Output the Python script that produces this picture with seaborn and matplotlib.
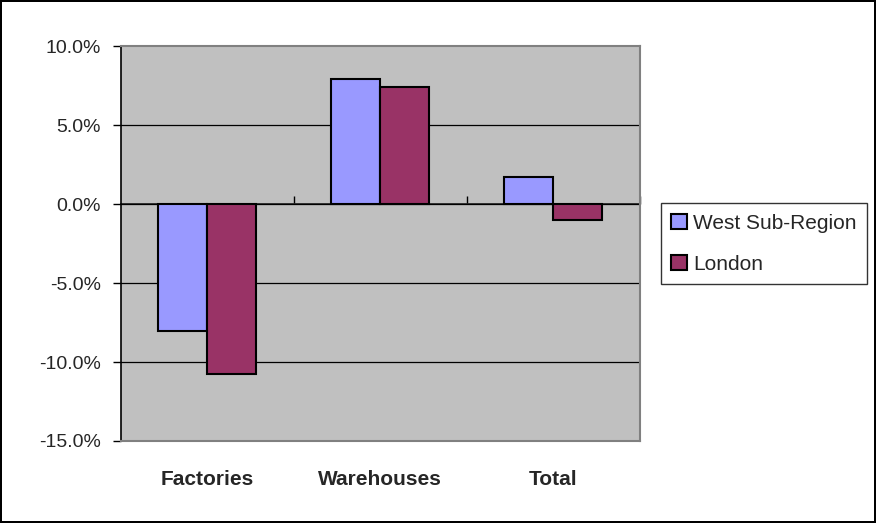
import matplotlib
matplotlib.use("Agg")
import matplotlib.pyplot as plt
import seaborn as sns
import pandas as pd
from matplotlib.ticker import FuncFormatter

categories = ["Factories", "Warehouses", "Total"]
series_names = ["West Sub-Region", "London"]
west = [-8.0, 7.95, 1.75]
london = [-10.75, 7.45, -1.0]
y_ticks = [-15, -10, -5, 0, 5, 10]

df = pd.DataFrame({
    "category": categories * 2,
    "series": [series_names[0]] * 3 + [series_names[1]] * 3,
    "value": west + london,
})

sns.set_theme(style="white")
plt.rcParams["font.family"] = ["Liberation Sans", "DejaVu Sans"]

fig = plt.figure(figsize=(8.76, 5.23), dpi=100)
ax = fig.add_axes([0.1376, 0.1568, 0.5925, 0.7543])
ax.set_facecolor("#C0C0C0")

sns.barplot(data=df, x="category", y="value", hue="series",
            palette=["#9999FF", "#993366"], saturation=1, width=0.57,
            edgecolor="black", linewidth=1.5, ax=ax, legend=True, zorder=3)

ax.set_xlim(-0.5, 2.5)
ax.set_ylim(-15, 10)
ax.set_yticks(y_ticks)
ax.yaxis.set_major_formatter(FuncFormatter(lambda v, p: f"{v:.1f}%"))
ax.tick_params(axis="y", which="major", length=5.8, width=1, color="black",
               labelsize=14, pad=8.5, left=True, direction="out")
ax.tick_params(axis="x", length=0, labelsize=15, pad=21)
for lab in ax.get_xticklabels():
    lab.set_fontweight("bold")
ax.set_xlabel("")
ax.set_ylabel("")

for y in y_ticks[1:-1]:
    ax.axhline(y, color="black", linewidth=0.9, zorder=1)

for name, sp in ax.spines.items():
    sp.set_color("#808080")
    sp.set_linewidth(1.5)
ax.spines["left"].set_color("black")
ax.spines["left"].set_linewidth(1.2)

sec = ax.secondary_xaxis(0.6)
sec.set_xticks([0.5, 1.5, 2.5])
sec.set_xticklabels([])
sec.tick_params(length=5.8, width=1, color="black", direction="out")
sec.spines["bottom"].set_color("black")
sec.spines["bottom"].set_linewidth(1.3)

leg = ax.get_legend()
handles = leg.legend_handles
leg.remove()
fig.legend(handles, series_names, loc="upper left",
           bbox_to_anchor=(0.7542, 0.6113), frameon=True, fancybox=False,
           edgecolor="black", fontsize=15, handlelength=0.77, handleheight=0.77,
           handletextpad=0.3, labelspacing=1.05, borderpad=0.5, borderaxespad=0)
fig.legends[0].get_frame().set_linewidth(1.0)

fig.patch.set_edgecolor("black")
fig.patch.set_linewidth(1.5)

fig.savefig("out.png", dpi=100)
